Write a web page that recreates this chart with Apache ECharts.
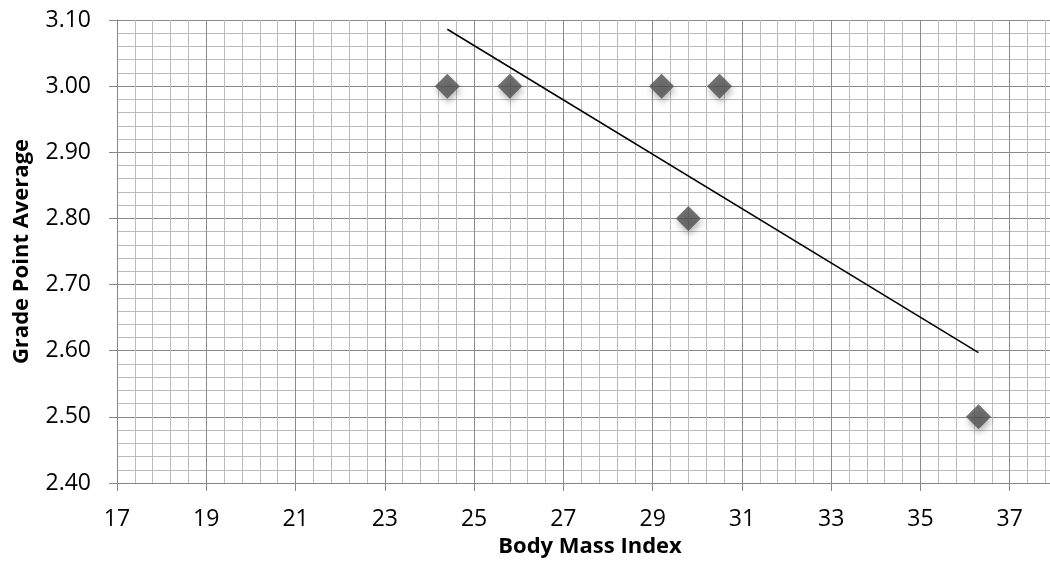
<!DOCTYPE html>
<html>
<head>
<meta charset="utf-8">
<script src="https://cdn.jsdelivr.net/npm/echarts@6/dist/echarts.min.js"></script>
<style>
html,body{margin:0;padding:0;background:#fff;}
#chart{width:1050px;height:573px;}
</style>
</head>
<body>
<div id="chart"></div>
<script>
// Data
const bmi = [24.4, 25.8, 29.2, 30.5, 29.8, 36.3];
const gpa = [3.00, 3.00, 3.00, 3.00, 2.80, 2.50];
// Trendline endpoints as drawn in the reference
const trendBmi = [24.4, 36.3];
const trendGpa = [3.086, 2.597];
// Axis settings
const xMin = 17, xMax = 39, xStep = 2;
const yMin = 2.4, yMax = 3.1, yStep = 0.1;
const xTitle = 'Body Mass Index';
const yTitle = 'Grade Point Average';

const font = 'Open Sans';
const chart = echarts.init(document.getElementById('chart'), null, {renderer: 'canvas'});
chart.setOption({
  animation: false,
  backgroundColor: '#ffffff',
  grid: {left: 117, top: 20, width: 982, height: 463, outerBoundsMode: 'none', containLabel: false},
  xAxis: {
    type: 'value', min: xMin, max: xMax, interval: xStep,
    name: xTitle, nameLocation: 'middle', nameGap: 50,
    nameTextStyle: {fontFamily: font, fontSize: 22, fontWeight: 'bold', color: '#000', padding: [0, 36, 0, 0]},
    axisLine: {show: true, onZero: false, lineStyle: {color: '#868686', width: 1}},
    axisTick: {show: true, length: 8, lineStyle: {color: '#868686'}},
    axisLabel: {fontFamily: font, fontSize: 23, color: '#000', margin: 25},
    splitLine: {show: true, lineStyle: {color: '#8a8a8a', width: 1}},
    minorTick: {show: false, splitNumber: 5},
    minorSplitLine: {show: true, lineStyle: {color: '#bcbcbc', width: 1}}
  },
  yAxis: {
    type: 'value', min: yMin, max: yMax, interval: yStep,
    name: yTitle, nameLocation: 'middle', nameGap: 84,
    nameTextStyle: {fontFamily: font, fontSize: 22, fontWeight: 'bold', color: '#000'},
    axisLine: {show: true, onZero: false, lineStyle: {color: '#868686', width: 1}},
    axisTick: {show: true, length: 8, lineStyle: {color: '#868686'}},
    axisLabel: {fontFamily: font, fontSize: 23, color: '#000', margin: 26,
      formatter: v => v.toFixed(2)},
    splitLine: {show: true, lineStyle: {color: '#8a8a8a', width: 1}},
    minorTick: {show: false, splitNumber: 5},
    minorSplitLine: {show: true, lineStyle: {color: '#bcbcbc', width: 1}}
  },
  series: [
    {
      type: 'line',
      data: trendBmi.map((x, i) => [x, trendGpa[i]]),
      showSymbol: false, symbol: 'none',
      lineStyle: {color: '#000', width: 1.5},
      z: 3
    },
    {
      type: 'scatter',
      data: bmi.map((x, i) => [x, gpa[i]]),
      symbol: 'diamond', symbolSize: 25,
      itemStyle: {color: '#505050', shadowBlur: 6, shadowOffsetY: 4, shadowOffsetX: 1, shadowColor: 'rgba(0,0,0,0.35)'},
      z: 4
    }
  ]
});
</script>
</body>
</html>
